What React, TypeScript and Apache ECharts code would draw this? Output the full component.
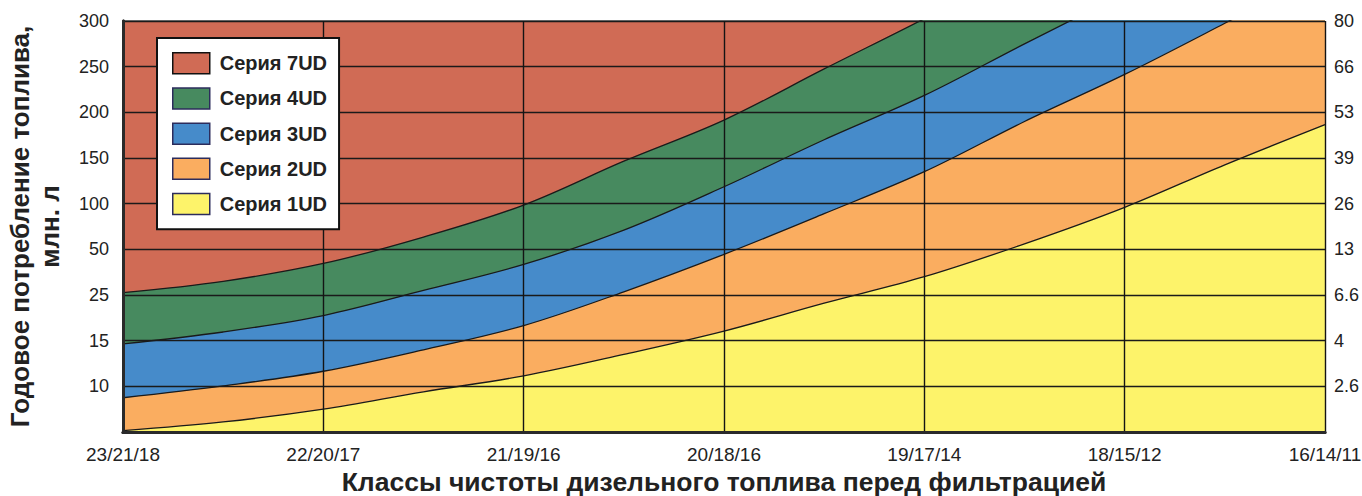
import React, { useEffect, useRef } from "react";
import * as echarts from "echarts";

const xLabels = ["23/21/18", "22/20/17", "21/19/16", "20/18/16", "19/17/14", "18/15/12", "16/14/11"];
const leftTicks = ["", "10", "15", "25", "50", "100", "150", "200", "250", "300"];
const rightTicks = ["", "2.6", "4", "6.6", "13", "26", "39", "53", "66", "80"];
const xPos = [0, 0.5, 1, 1.5, 2, 2.5, 3, 3.5, 4, 4.5, 5, 5.5, 6];

const seriesNames = ["Серия 7UD", "Серия 4UD", "Серия 3UD", "Серия 2UD", "Серия 1UD"];
const seriesColors = ["#D06B55", "#478A5F", "#468BCA", "#FAAD60", "#FDF36A"];

const s7 = [9, 9, 9, 9, 9, 9, 9, 9, 9, 9, 9, 9, 9];
const s4 = [3.05, 3.3, 3.69, 4.27, 4.97, 5.93, 6.83, 7.95, 9.05, 10.2, 11.3, 12.4, 13.5];
const s3 = [1.93, 2.19, 2.55, 3.1, 3.67, 4.42, 5.37, 6.4, 7.37, 8.5, 9.6, 10.7, 11.8];
const s2 = [0.75, 1.01, 1.33, 1.8, 2.33, 3.07, 3.89, 4.78, 5.7, 6.8, 7.83, 8.95, 10.1];
const s1 = [0.03, 0.22, 0.5, 0.88, 1.23, 1.7, 2.21, 2.82, 3.4, 4.12, 4.92, 5.85, 6.73];
const seriesValues = [s7, s4, s3, s2, s1];

const FONT = "'Liberation Sans', Arial, Helvetica, sans-serif";

export default function App() {
  const ref = useRef<HTMLDivElement>(null);
  useEffect(() => {
    if (!ref.current) return;
    const chart = echarts.init(ref.current, null, { renderer: "svg" });
    const axisLine = { show: true, lineStyle: { color: "#2a2a2a", width: 3 } };
    const option = {
      animation: false,
      backgroundColor: "#ffffff",
      grid: { left: 123, right: 37, top: 21, bottom: 64, containLabel: false, outerBoundsMode: "none" },
      legend: {
        orient: "vertical",
        left: 157,
        top: 38,
        backgroundColor: "#ffffff",
        borderColor: "#111111",
        borderWidth: 2,
        padding: [14, 12, 14, 15],
        itemWidth: 37,
        itemHeight: 21,
        itemGap: 12.7,
        icon: "rect",
        selectedMode: false,
        z: 20,
        itemStyle: { borderColor: "#2c2c5c", borderWidth: 1.5 },
        textStyle: { fontFamily: FONT, fontWeight: "bold", fontSize: 20, color: "#222222", padding: [0, 0, 0, 5] },
        data: seriesNames.map((n, i) =>
          i === 0 ? { name: n, itemStyle: { borderColor: "#111111" } } : { name: n }
        ),
      },
      xAxis: [
        {
          type: "value",
          min: 0,
          max: 6,
          interval: 1,
          z: 10,
          axisLine,
          axisTick: { show: false },
          axisLabel: {
            margin: 13,
            fontFamily: FONT,
            fontSize: 19,
            color: "#222222",
            formatter: (v: number) => xLabels[Math.round(v)] ?? "",
          },
          splitLine: { show: true, lineStyle: { color: "#141414", width: 1.4 } },
          name: "Классы чистоты дизельного топлива перед фильтрацией",
          nameLocation: "middle",
          nameGap: 36,
          nameTextStyle: { fontFamily: FONT, fontWeight: "bold", fontSize: 26.5, color: "#222222" },
        },
        {
          type: "value",
          position: "top",
          min: 0,
          max: 6,
          interval: 1,
          z: 10,
          axisLine,
          axisTick: { show: false },
          axisLabel: { show: false },
          splitLine: { show: false },
        },
      ],
      yAxis: [
        {
          type: "value",
          min: 0,
          max: 9,
          interval: 1,
          z: 10,
          axisLine,
          axisTick: { show: false },
          axisLabel: {
            margin: 14,
            fontFamily: FONT,
            fontSize: 18,
            color: "#222222",
            formatter: (v: number) => leftTicks[Math.round(v)] ?? "",
          },
          splitLine: { show: true, lineStyle: { color: "#1a1a1a", width: 1.4 } },
          name: "Годовое потребление топлива,\nмлн. л",
          nameLocation: "middle",
          nameGap: 58,
          nameTextStyle: { fontFamily: FONT, fontWeight: "bold", fontSize: 26, lineHeight: 30, color: "#222222", align: "center" },
        },
        {
          type: "value",
          position: "right",
          min: 0,
          max: 9,
          interval: 1,
          z: 10,
          axisLine,
          axisTick: { show: false },
          axisLabel: {
            margin: 9,
            fontFamily: FONT,
            fontSize: 18,
            color: "#222222",
            formatter: (v: number) => rightTicks[Math.round(v)] ?? "",
          },
          splitLine: { show: false },
        },
      ],
      series: seriesNames.map((name, i) => ({
        name,
        type: "line",
        smooth: 0.35,
        showSymbol: false,
        symbol: "none",
        clip: true,
        xAxisIndex: 0,
        yAxisIndex: 0,
        z: 2 + i * 0.01,
        itemStyle: { color: seriesColors[i] },
        lineStyle: { color: "#1a1a1a", width: 1.3 },
        areaStyle: { color: seriesColors[i], opacity: 1 },
        data: xPos.map((x, k) => [x, seriesValues[i][k]]),
      })),
    };
    chart.setOption(option as any);
    return () => chart.dispose();
  }, []);
  return (
    <div style={{ position: "fixed", left: 0, top: 0, width: 1362, height: 496, margin: 0, padding: 0 }}>
      <div ref={ref} style={{ width: 1362, height: 496 }} />
    </div>
  );
}
